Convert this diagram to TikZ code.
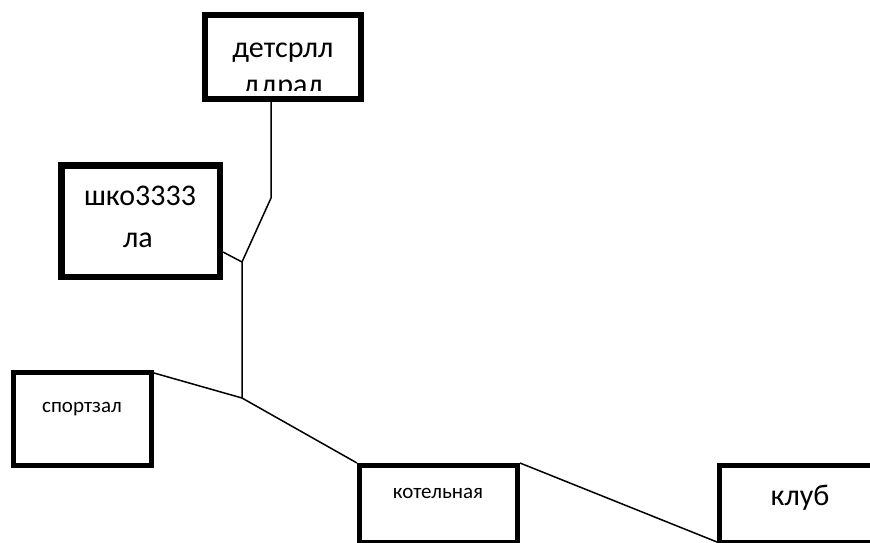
\documentclass[tikz,border=0pt]{standalone}
\usepackage{fontspec}
\setmainfont{Carlito}
\begin{document}
\begin{tikzpicture}[x=1pt,y=-1pt,
  box/.style={draw, line width=#1, inner sep=0pt},
  wire/.style={line width=1.5pt, line join=miter},
  big/.style={font=\fontsize{30}{40}\selectfont, anchor=base, inner sep=0pt},
  small/.style={font=\fontsize{21}{25}\selectfont, anchor=base, inner sep=0pt}]
\useasboundingbox (0,0) rectangle (870,542);
\clip (0,0) rectangle (870,542);

% buildings
\node[box=6pt,   minimum width=156pt,   minimum height=84pt]    (b1) at (283,57)    {};
\node[box=6.5pt, minimum width=158.5pt, minimum height=111.5pt] (b2) at (140.5,221) {};
\node[box=5pt,   minimum width=138pt,   minimum height=93pt]    (b3) at (82.5,419)  {};
\node[box=5pt,   minimum width=158pt,   minimum height=77pt]    (b4) at (438.5,504) {};
\node[box=5pt,   minimum width=158pt,   minimum height=77pt]    (b5) at (798.5,504) {};

% labels; the first one overflows its box and is cut off above the border
\begin{scope}
  \clip ([shift={(6,6)}]b1.north west) rectangle ([shift={(-6,-12)}]b1.south east);
  \node[big] (t1a) at (283,57) {детсрлл};
  \node[big] (t1b) at (283,94) {ддрал};
\end{scope}
\node[big]   (t2a) at (140,205) {шко3333};
\node[big]   (t2b) at (138,247) {ла};
\node[small] (t3)  at (82,412)  {спортзал};
\node[small] (t4)  at (438,498) {котельная};
\node[big]   (t5)  at (800,505) {клуб};

% pipe network
\coordinate (j1) at (271,198);
\coordinate (j2) at (242,262);
\coordinate (j3) at (242,398);
\draw[wire] (b1.south -| j1) -- (j1) -- (j2) -- (j3);
\draw[wire] ([yshift=-31pt]b2.east) -- (j2);
\draw[wire] ([yshift=-3pt]b3.north east) -- (j3) -- (b4.north west);
\draw[wire] (b4.north east) -- ([yshift=3pt]b5.south west);
\end{tikzpicture}
\end{document}
